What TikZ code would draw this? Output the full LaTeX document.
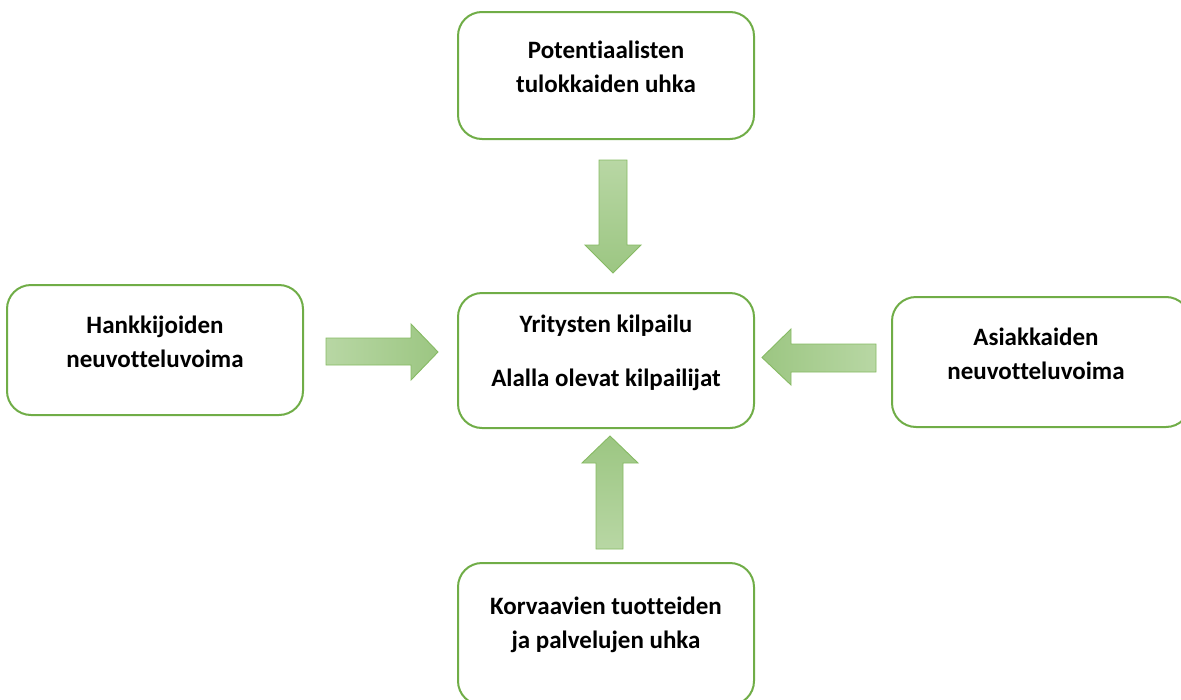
\documentclass[tikz,border=0pt]{standalone}
\usepackage{fontspec}
\setmainfont{Carlito}[Ligatures=NoCommon]
\begin{document}
\begin{tikzpicture}[x=1pt,y=-1pt,
  box/.style={draw=boxgreen,line width=2pt,rounded corners=24pt,fill=white},
  label/.style={font=\fontsize{25}{34}\selectfont\bfseries,align=center,inner sep=0pt},
  blockarrow/.style={draw=arrowline,line width=0.9pt,line join=miter}]
\definecolor{boxgreen}{HTML}{70AD47}
\definecolor{arrowline}{HTML}{86BA63}
\definecolor{arrowlight}{HTML}{B8D7A4}
\definecolor{arrowdark}{HTML}{9CC682}
\useasboundingbox (0,0) rectangle (1181,699);

% boxes
\draw[box] (458,12) rectangle (754,139);
\draw[box] (7,285) rectangle (303,415);
\draw[box] (458,293) rectangle (754,428);
\draw[box] (892,297) rectangle (1190,427);
\draw[box] (458,563) rectangle (754,705);

% labels
\node[label] (ttop) at (606,67) {Potentiaalisten\\tulokkaiden uhka};
\node[label] (tleft) at (155,341.5) {Hankkijoiden\\neuvotteluvoima};
\node[label] (tright) at (1036,353.5) {Asiakkaiden\\neuvotteluvoima};
\node[label] (tbot) at (606,625) {Korvaavien tuotteiden\\ja palvelujen uhka};
\node[label] (tmid1) at (606,326) {Yritysten kilpailu};
\node[label] (tmid2) at (606,380) {Alalla olevat kilpailijat};

% block arrows
\draw[blockarrow,top color=arrowlight,bottom color=arrowdark]
  (599,160) -- (627,160) -- (627,245) -- (641,245) -- (613,273) -- (585,245) -- (599,245) -- cycle;
\draw[blockarrow,left color=arrowlight,right color=arrowdark]
  (326,338) -- (411,338) -- (411,324) -- (438,352) -- (411,380) -- (411,365) -- (326,365) -- cycle;
\draw[blockarrow,right color=arrowlight,left color=arrowdark]
  (876,344) -- (791,344) -- (791,329) -- (762,357.5) -- (791,385) -- (791,372) -- (876,372) -- cycle;
\draw[blockarrow,bottom color=arrowlight,top color=arrowdark]
  (596,549) -- (623,549) -- (623,463) -- (638,463) -- (610,436) -- (582,463) -- (596,463) -- cycle;
\end{tikzpicture}
\end{document}
